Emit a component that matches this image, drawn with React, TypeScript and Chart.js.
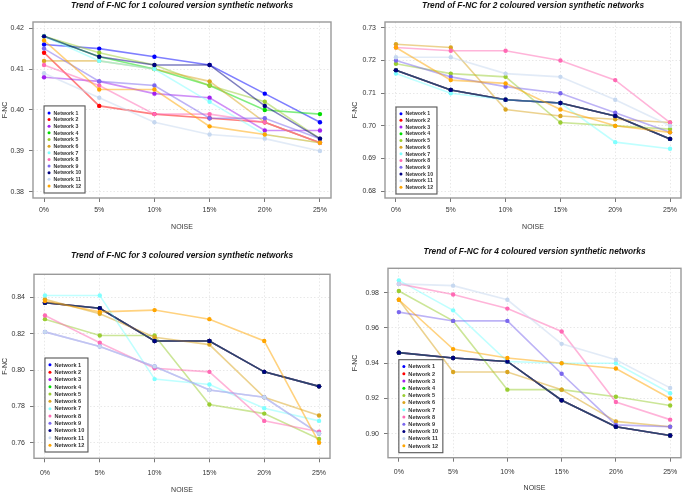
import React, { useEffect, useRef } from "react";
import { Chart, registerables } from "chart.js";
Chart.register(...registerables);

// ---------- data ----------
const noiseLevels = [0, 5, 10, 15, 20, 25];
const noiseLabels = ["0%", "5%", "10%", "15%", "20%", "25%"];

const networkNames = [
  "Network 1", "Network 2", "Network 3", "Network 4", "Network 5", "Network 6",
  "Network 7", "Network 8", "Network 9", "Network 10", "Network 11", "Network 12",
];

const networkColors = [
  "#0000FF", "#FF0000", "#A020F0", "#00DD00", "#9ACD32", "#DAA520",
  "#7FFFFF", "#FF69B4", "#7B68EE", "#000080", "#C6D8F0", "#FFA500",
];

const fnc1Coloured = [
  [0.416, 0.415, 0.413, 0.411, 0.404, 0.397],
  [0.414, 0.401, 0.399, 0.398, 0.397, 0.392],
  [0.408, 0.407, 0.404, 0.403, 0.395, 0.395],
  [0.418, 0.413, 0.410, 0.406, 0.400, 0.399],
  [0.418, 0.414, 0.411, 0.406, 0.402, 0.393],
  [0.412, 0.412, 0.410, 0.407, 0.397, 0.392],
  [0.418, 0.412, 0.410, 0.402, 0.394, 0.392],
  [0.411, 0.406, 0.399, 0.399, 0.397, 0.392],
  [0.415, 0.407, 0.406, 0.398, 0.398, 0.393],
  [0.418, 0.413, 0.411, 0.411, 0.401, 0.393],
  [0.409, 0.403, 0.397, 0.394, 0.393, 0.390],
  [0.417, 0.405, 0.405, 0.396, 0.394, 0.392],
];

const fnc2Coloured = [
  [0.717, 0.711, 0.708, 0.707, 0.703, 0.696],
  [0.717, 0.711, 0.708, 0.707, 0.703, 0.696],
  [0.717, 0.711, 0.708, 0.707, 0.703, 0.696],
  [0.717, 0.711, 0.708, 0.707, 0.703, 0.696],
  [0.719, 0.716, 0.715, 0.701, 0.700, 0.699],
  [0.725, 0.724, 0.705, 0.703, 0.702, 0.701],
  [0.716, 0.710, 0.708, 0.707, 0.695, 0.693],
  [0.724, 0.723, 0.723, 0.720, 0.714, 0.701],
  [0.720, 0.715, 0.712, 0.710, 0.704, 0.698],
  [0.717, 0.711, 0.708, 0.707, 0.703, 0.696],
  [0.721, 0.721, 0.716, 0.715, 0.708, 0.700],
  [0.724, 0.714, 0.713, 0.705, 0.700, 0.698],
];

const fnc3Coloured = [
  [0.837, 0.834, 0.816, 0.816, 0.799, 0.791],
  [0.837, 0.834, 0.816, 0.816, 0.799, 0.791],
  [0.837, 0.834, 0.816, 0.816, 0.799, 0.791],
  [0.837, 0.834, 0.816, 0.816, 0.799, 0.791],
  [0.828, 0.819, 0.819, 0.781, 0.776, 0.762],
  [0.839, 0.831, 0.818, 0.814, 0.785, 0.775],
  [0.841, 0.841, 0.795, 0.792, 0.779, 0.772],
  [0.830, 0.815, 0.801, 0.799, 0.772, 0.766],
  [0.821, 0.813, 0.802, 0.789, 0.785, 0.765],
  [0.837, 0.834, 0.816, 0.816, 0.799, 0.791],
  [0.821, 0.813, 0.802, 0.789, 0.785, 0.765],
  [0.838, 0.832, 0.833, 0.828, 0.816, 0.760],
];

const fnc4Coloured = [
  [0.946, 0.943, 0.941, 0.919, 0.904, 0.899],
  [0.946, 0.943, 0.941, 0.919, 0.904, 0.899],
  [0.946, 0.943, 0.941, 0.919, 0.904, 0.899],
  [0.946, 0.943, 0.941, 0.919, 0.904, 0.899],
  [0.981, 0.964, 0.925, 0.925, 0.921, 0.916],
  [0.976, 0.935, 0.935, 0.925, 0.907, 0.904],
  [0.987, 0.970, 0.941, 0.940, 0.940, 0.923],
  [0.985, 0.979, 0.971, 0.958, 0.918, 0.908],
  [0.969, 0.964, 0.964, 0.934, 0.905, 0.904],
  [0.946, 0.943, 0.941, 0.919, 0.904, 0.899],
  [0.985, 0.984, 0.976, 0.951, 0.942, 0.926],
  [0.976, 0.948, 0.943, 0.940, 0.937, 0.920],
];

const yTicks1 = [0.38, 0.39, 0.40, 0.41, 0.42];
const yTicks2 = [0.68, 0.69, 0.70, 0.71, 0.72, 0.73];
const yTicks3 = [0.76, 0.78, 0.80, 0.82, 0.84];
const yTicks4 = [0.90, 0.92, 0.94, 0.96, 0.98];

const titles = [
  "Trend of F-NC for 1 coloured version synthetic networks",
  "Trend of F-NC for 2 coloured version synthetic networks",
  "Trend of F-NC for 3 coloured version synthetic networks",
  "Trend of F-NC for 4 coloured version synthetic networks",
];

// ---------- layout ----------
type Panel = {
  pos: { left: number; top: number; width: number; height: number };
  area: { left: number; right: number; top: number; bottom: number };
  yRange: [number, number];
  titleY: number;
  xTitleY: number;
  yTitleX: number;
  xTickY: number;
  legend: { w: number; itemH: number; pad: number; gap: number; font: number };
};

const panels: Panel[] = [
  {
    pos: { left: 0, top: 0, width: 342, height: 245 },
    area: { left: 33, right: 331, top: 22, bottom: 198 },
    yRange: [0.3785, 0.4215],
    titleY: 5.5, xTitleY: 227, yTitleX: 5, xTickY: 210,
    legend: { w: 41, itemH: 6.64, pad: 3.7, gap: 5, font: 5.2 },
  },
  {
    pos: { left: 342, top: 0, width: 343, height: 245 },
    area: { left: 43, right: 341, top: 22, bottom: 198 },
    yRange: [0.6779, 0.7318],
    titleY: 5.5, xTitleY: 227, yTitleX: 13, xTickY: 210,
    legend: { w: 41, itemH: 6.7, pad: 3.3, gap: 4, font: 5.2 },
  },
  {
    pos: { left: 0, top: 245, width: 342, height: 248 },
    area: { left: 34, right: 330, top: 29.3, bottom: 213.3 },
    yRange: [0.7514, 0.8527],
    titleY: 11, xTitleY: 245, yTitleX: 5, xTickY: 227.7,
    legend: { w: 43, itemH: 7.3, pad: 3.2, gap: 6.3, font: 5.6 },
  },
  {
    pos: { left: 342, top: 245, width: 343, height: 248 },
    area: { left: 46, right: 341, top: 23.3, bottom: 212.7 },
    yRange: [0.8864, 0.99385],
    titleY: 7, xTitleY: 243.3, yTitleX: 13, xTickY: 226.7,
    legend: { w: 44, itemH: 7.2, pad: 3.3, gap: 5, font: 5.6 },
  },
];

const panelData = [fnc1Coloured, fnc2Coloured, fnc3Coloured, fnc4Coloured];
const panelTicks = [yTicks1, yTicks2, yTicks3, yTicks4];

const FONT = "'Liberation Sans', Arial, Helvetica, sans-serif";

function withAlpha(hex: string, a: number) {
  const r = parseInt(hex.slice(1, 3), 16);
  const g = parseInt(hex.slice(3, 5), 16);
  const b = parseInt(hex.slice(5, 7), 16);
  return `rgba(${r},${g},${b},${a})`;
}

const framePlugin = {
  id: "frameBox",
  afterDraw(chart: any) {
    const { ctx, chartArea } = chart;
    ctx.save();
    ctx.strokeStyle = "#9a9a9a";
    ctx.lineWidth = 1.4;
    ctx.strokeRect(chartArea.left, chartArea.top, chartArea.right - chartArea.left, chartArea.bottom - chartArea.top);
    ctx.restore();
  },
};

const insetLegendPlugin = {
  id: "insetLegend",
  afterDraw(chart: any, _args: any, opts: any) {
    const { ctx, chartArea } = chart;
    const xScale = chart.scales.x;
    const x0 = xScale.getPixelForValue(0);
    const ds = chart.data.datasets;
    const h = opts.pad * 2 + opts.itemH * ds.length;
    const yBottom = chartArea.bottom - opts.gap;
    const yTop = yBottom - h;
    ctx.save();
    ctx.fillStyle = "#ffffff";
    ctx.fillRect(x0, yTop, opts.w, h);
    ctx.strokeStyle = "#555555";
    ctx.lineWidth = 1.1;
    ctx.strokeRect(x0, yTop, opts.w, h);
    ctx.font = `bold ${opts.font}px ${FONT}`;
    ctx.textBaseline = "middle";
    ctx.textAlign = "left";
    ds.forEach((d: any, i: number) => {
      const cy = yTop + opts.pad + opts.itemH * (i + 0.5);
      ctx.beginPath();
      ctx.fillStyle = d.pointBackgroundColor;
      ctx.arc(x0 + 5, cy, 1.5, 0, Math.PI * 2);
      ctx.fill();
      ctx.fillStyle = "#333333";
      ctx.fillText(d.label, x0 + 9.5, cy + 0.3);
    });
    ctx.restore();
  },
};

function PanelChart({ idx }: { idx: number }) {
  const ref = useRef<HTMLCanvasElement | null>(null);
  const p = panels[idx];
  useEffect(() => {
    if (!ref.current) return;
    const data = panelData[idx];
    const ticks = panelTicks[idx];
    const titleSize = 8.3;
    const titleLH = titleSize * 1.2;
    const titlePadTop = p.titleY - titleLH / 2;
    const titlePadBottom = p.area.top - titlePadTop - titleLH;
    const tickLen = 4;
    const tickLH = 7 * 1.2;
    const xTickPad = p.xTickY - p.area.bottom - tickLen - tickLH / 2;
    const H = p.pos.height;

    const chart = new Chart(ref.current, {
      type: "line",
      data: {
        datasets: data.map((vals, i) => ({
          label: networkNames[i],
          data: noiseLevels.map((x, j) => ({ x, y: vals[j] })),
          borderColor: withAlpha(networkColors[i], 0.5),
          backgroundColor: networkColors[i],
          pointBackgroundColor: networkColors[i],
          pointBorderWidth: 0,
          pointRadius: 2.2,
          borderWidth: 1.6,
          tension: 0,
          fill: false,
          order: networkNames.length - i,
        })),
      },
      options: {
        animation: false,
        responsive: false,
        maintainAspectRatio: false,
        devicePixelRatio: window.devicePixelRatio || 1,
        events: [],
        layout: { padding: { left: 0, top: 0, bottom: 0, right: p.pos.width - p.area.right } },
        plugins: {
          legend: { display: false },
          tooltip: { enabled: false },
          title: {
            display: true,
            fullSize: false,
            text: titles[idx],
            color: "#111111",
            font: { family: FONT, size: titleSize, weight: "bold", style: "italic", lineHeight: 1.2 },
            padding: { top: titlePadTop, bottom: titlePadBottom },
          },
          insetLegend: p.legend,
        } as any,
        scales: {
          x: {
            type: "linear",
            min: -1,
            max: 26,
            afterBuildTicks: (s: any) => {
              s.ticks = noiseLevels.map((v) => ({ value: v }));
            },
            afterFit: (s: any) => {
              s.height = H - p.area.bottom;
            },
            ticks: {
              color: "#333333",
              font: { family: FONT, size: 7 },
              padding: xTickPad,
              maxRotation: 0,
              autoSkip: false,
              callback: (v: any) => noiseLabels[noiseLevels.indexOf(Number(v))] ?? "",
            },
            grid: {
              color: "#e2e2e2",
              lineWidth: 0.8,
              tickLength: tickLen,
              tickColor: "#777777",
              tickWidth: 1,
            },
            border: { display: false, dash: [1.5, 2] },
            title: {
              display: true,
              text: "NOISE",
              color: "#333333",
              font: { family: FONT, size: 7, lineHeight: 1 },
              padding: { top: 0, bottom: H - p.xTitleY - 3.5 },
            },
          },
          y: {
            type: "linear",
            min: p.yRange[0],
            max: p.yRange[1],
            afterBuildTicks: (s: any) => {
              s.ticks = ticks.map((v) => ({ value: v }));
            },
            afterFit: (s: any) => {
              s.width = p.area.left;
            },
            ticks: {
              color: "#333333",
              font: { family: FONT, size: 7 },
              padding: 5,
              autoSkip: false,
              callback: (v: any) => Number(v).toFixed(2),
            },
            grid: {
              color: "#e2e2e2",
              lineWidth: 0.8,
              tickLength: tickLen,
              tickColor: "#777777",
              tickWidth: 1,
            },
            border: { display: false, dash: [1.5, 2] },
            title: {
              display: true,
              text: "F-NC",
              color: "#333333",
              font: { family: FONT, size: 7, lineHeight: 1 },
              padding: { top: p.yTitleX - 3.5, bottom: 0 },
            },
          },
        },
      } as any,
      plugins: [framePlugin, insetLegendPlugin],
    });
    return () => chart.destroy();
  }, [idx]);

  return (
    <canvas
      ref={ref}
      width={p.pos.width}
      height={p.pos.height}
      style={{
        position: "absolute",
        left: p.pos.left,
        top: p.pos.top,
        width: p.pos.width,
        height: p.pos.height,
      }}
    />
  );
}

export default function App() {
  return (
    <div
      style={{
        position: "absolute",
        left: 0,
        top: 0,
        width: 685,
        height: 493,
        background: "#ffffff",
        overflow: "hidden",
      }}
    >
      {panels.map((_, i) => (
        <PanelChart key={i} idx={i} />
      ))}
    </div>
  );
}
